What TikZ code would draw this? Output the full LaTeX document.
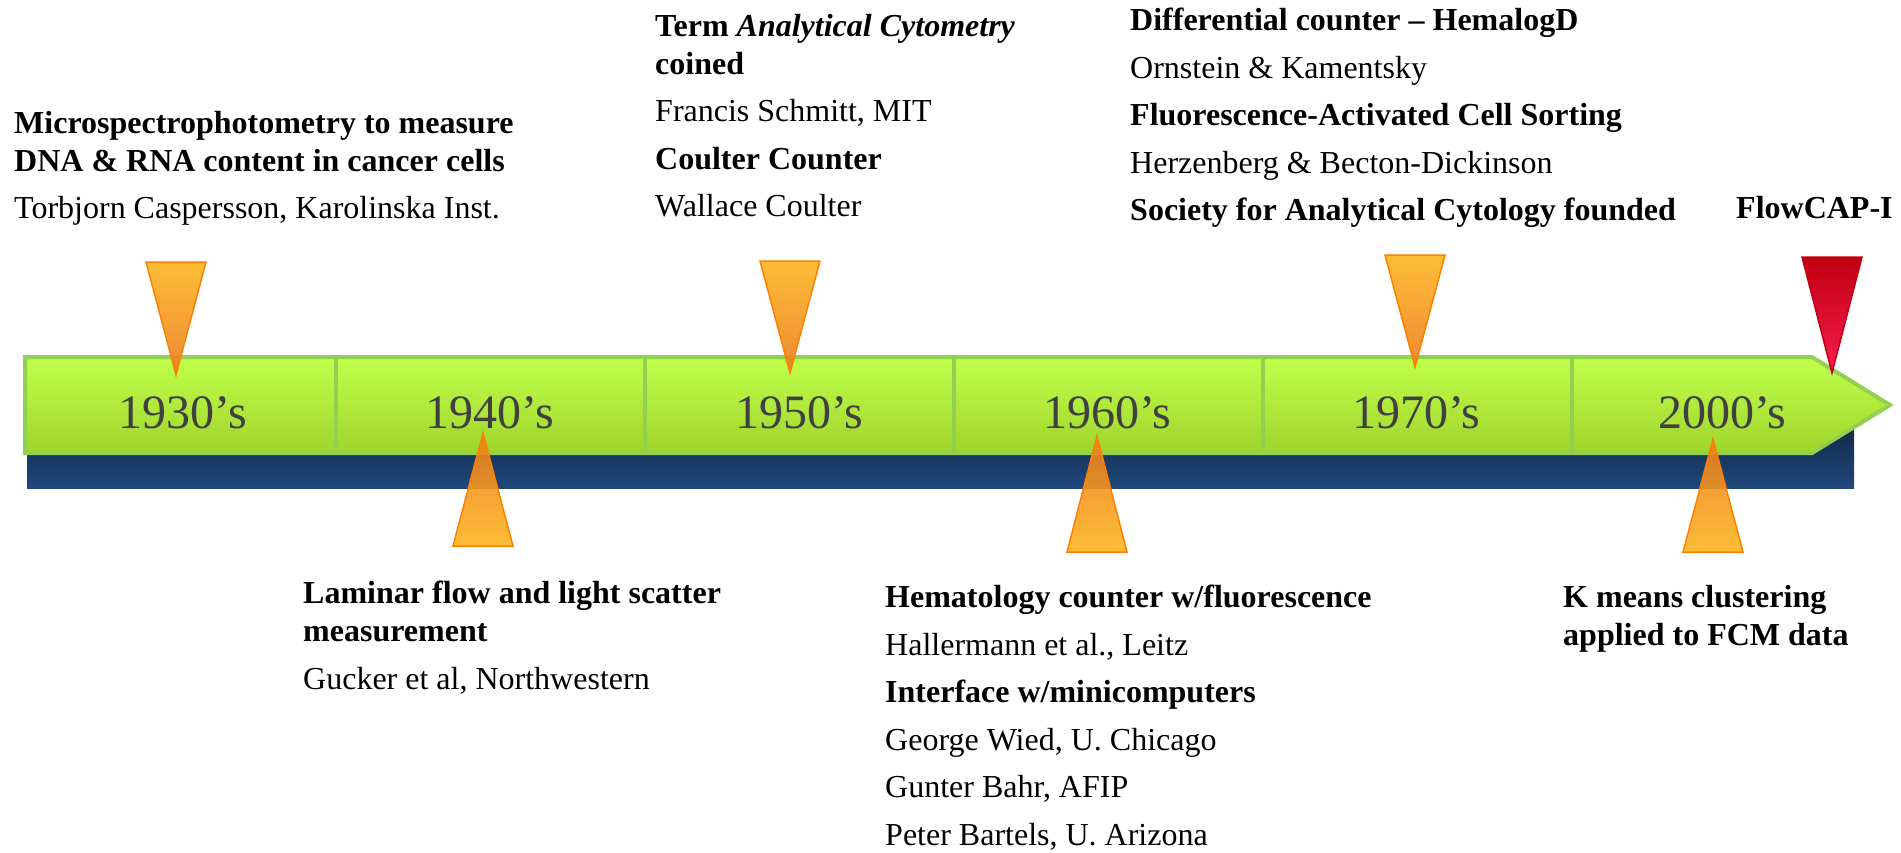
\documentclass[tikz,border=0pt]{standalone}
\usepackage{fontspec}
\setmainfont{Liberation Serif}
\usetikzlibrary{positioning}

\definecolor{barlime}{RGB}{192,255,76}
\definecolor{barolive}{RGB}{160,212,44}
\definecolor{barrim}{RGB}{146,208,80}
\definecolor{navytop}{RGB}{18,38,66}
\definecolor{navybot}{RGB}{30,72,124}
\definecolor{flagyellow}{RGB}{253,182,32}
\definecolor{flagorange}{RGB}{236,124,30}
\definecolor{flagrim}{RGB}{255,128,0}
\definecolor{flagdark}{RGB}{192,0,16}
\definecolor{flagred}{RGB}{250,28,80}
\definecolor{yeargray}{RGB}{64,64,64}

\begin{document}
\begin{tikzpicture}[x=1pt, y=-1pt,
                decade/.style={font=\fontsize{48}{48}\selectfont, text=yeargray, anchor=base},
                event/.style={font=\fontsize{32}{38}\selectfont, align=left,
                              anchor=north west, inner sep=0pt},
                rim/.style={draw=barrim, line width=4pt},
                flagdown/.style={draw=flagrim, line width=1.5pt, fill opacity=0.9,
                                 top color=flagyellow, bottom color=flagorange},
                flagup/.style={draw=flagrim, line width=1.5pt, fill opacity=0.9,
                               top color=flagorange, bottom color=flagyellow},
                flagred/.style={draw=flagdark, line width=1.5pt,
                                top color=flagdark, bottom color=flagred}]

                \useasboundingbox (0,0) rectangle (1901,852);

                % Timeline - shadow bar and green arrow
                \fill[top color=navytop, bottom color=navybot] (27,420) rectangle (1854,488);
                \draw[rim, top color=barlime, bottom color=barolive]
                    (25,357) -- (1812,357) -- (1890,405) -- (1812,453) -- (25,453) -- cycle;
                \foreach \x in {336,645,954,1263,1572}
                    \draw[rim] (\x,357) -- (\x,453);

                % Decades
                \foreach \yr/\x [count=\i] in {1930/183, 1940/490, 1950/799, 1960/1107, 1970/1416, 2000/1722}
                    \node[decade] (dec\i) at (\x,428) {\yr's};

                % Markers - above the bar
                \foreach \x/\t/\b in {176/375/262, 790/373/261, 1415/367/255}
                    \draw[flagdown] (\x-30,\b) -- (\x+30,\b) -- (\x,\t) -- cycle;
                \draw[flagred] (1802,257) -- (1862,257) -- (1832,373) -- cycle;

                % Markers - below the bar
                \foreach \x/\t/\b in {483/433/546, 1097/436/552, 1713/439/552}
                    \draw[flagup] (\x-30,\b) -- (\x+30,\b) -- (\x,\t) -- cycle;

                % Events above
                \node[event] (caspersson) at (14,111) {\textbf{Microspectrophotometry to measure}\\
                    \textbf{DNA \& RNA content in cancer cells}\\[9.5pt]
                    Torbjorn Caspersson, Karolinska Inst.};
                \node[event] (schmitt) at (655,14) {\textbf{Term \textit{Analytical Cytometry}}\\
                    \textbf{coined}\\[9.5pt]
                    Francis Schmitt, MIT\\[9.5pt]
                    \textbf{Coulter Counter}\\[9.5pt]
                    Wallace Coulter};
                \node[event] (hemalog) at (1130,8) {\textbf{Differential counter – HemalogD}\\[9.5pt]
                    Ornstein \& Kamentsky\\[9.5pt]
                    \textbf{Fluorescence-Activated Cell Sorting}\\[9.5pt]
                    Herzenberg \& Becton-Dickinson\\[9.5pt]
                    \textbf{Society for Analytical Cytology founded}};
                \node[event] (flowcap) at (1736,196) {\textbf{FlowCAP-I}};

                % Events below
                \node[event] (gucker) at (303,581) {\textbf{Laminar flow and light scatter}\\
                    \textbf{measurement}\\[9.5pt]
                    Gucker et al, Northwestern};
                \node[event] (hallermann) at (885,585) {\textbf{Hematology counter w/fluorescence}\\[9.5pt]
                    Hallermann et al., Leitz\\[9.5pt]
                    \textbf{Interface w/minicomputers}\\[9.5pt]
                    George Wied, U. Chicago\\[9.5pt]
                    Gunter Bahr, AFIP\\[9.5pt]
                    Peter Bartels, U. Arizona};
                \node[event] (kmeans) at (1563,585) {\textbf{K means clustering}\\
                    \textbf{applied to FCM data}};
            \end{tikzpicture}
\end{document}
